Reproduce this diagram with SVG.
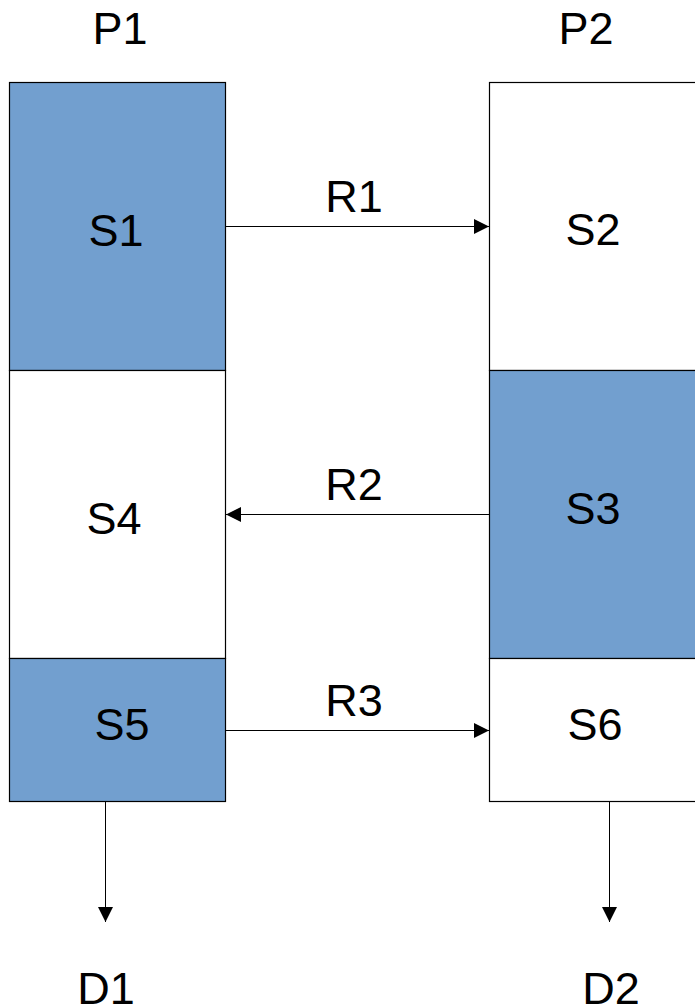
<svg xmlns="http://www.w3.org/2000/svg" width="695" height="1006" viewBox="0 0 695 1006">
<style>
.b{stroke:#000;stroke-width:1.2}
.f{fill:#729fcf}
.w{fill:#fff}
.t{font-family:"Liberation Sans",Arial,sans-serif;font-size:45px;fill:#000;text-anchor:middle}
.c{stroke:#000;stroke-width:1;fill:none}
</style>
<defs>
<marker id="ah" markerWidth="15" markerHeight="15" refX="15" refY="7.5" orient="auto" markerUnits="userSpaceOnUse">
<path d="M0,0 L15,7.5 L0,15 Z" fill="#000"/>
</marker>
</defs>
<rect width="695" height="1006" fill="#fff"/>
<g id="P1"><text class="t" x="120" y="44">P1</text></g>
<g id="P2"><text class="t" x="586" y="44">P2</text></g>
<g id="S1"><rect class="b f" x="9.5" y="82.5" width="216" height="288"/><text class="t" x="116" y="246">S1</text></g>
<g id="S4"><rect class="b w" x="9.5" y="370.5" width="216" height="288"/><text class="t" x="114" y="534">S4</text></g>
<g id="S5"><rect class="b f" x="9.5" y="658.5" width="216" height="143"/><text class="t" x="122" y="740">S5</text></g>
<g id="S2"><rect class="b w" x="489.5" y="82.5" width="216" height="288"/><text class="t" x="593" y="245">S2</text></g>
<g id="S3"><rect class="b f" x="489.5" y="370.5" width="216" height="288"/><text class="t" x="593" y="524">S3</text></g>
<g id="S6"><rect class="b w" x="489.5" y="658.5" width="216" height="143"/><text class="t" x="595" y="740">S6</text></g>
<g id="D1"><text class="t" x="106" y="1004">D1</text></g>
<g id="D2"><text class="t" x="611" y="1004">D2</text></g>
<g id="connectors">
<line class="c" x1="226" y1="226.5" x2="489" y2="226.5" marker-end="url(#ah)"/>
<line class="c" x1="489" y1="514.5" x2="226" y2="514.5" marker-end="url(#ah)"/>
<line class="c" x1="226" y1="730.5" x2="489" y2="730.5" marker-end="url(#ah)"/>
<line class="c" x1="105.5" y1="802" x2="105.5" y2="922" marker-end="url(#ah)"/>
<line class="c" x1="609.5" y1="802" x2="609.5" y2="922" marker-end="url(#ah)"/>
<text class="t" x="354" y="212">R1</text>
<text class="t" x="354" y="500">R2</text>
<text class="t" x="354" y="716">R3</text>
</g>
</svg>
